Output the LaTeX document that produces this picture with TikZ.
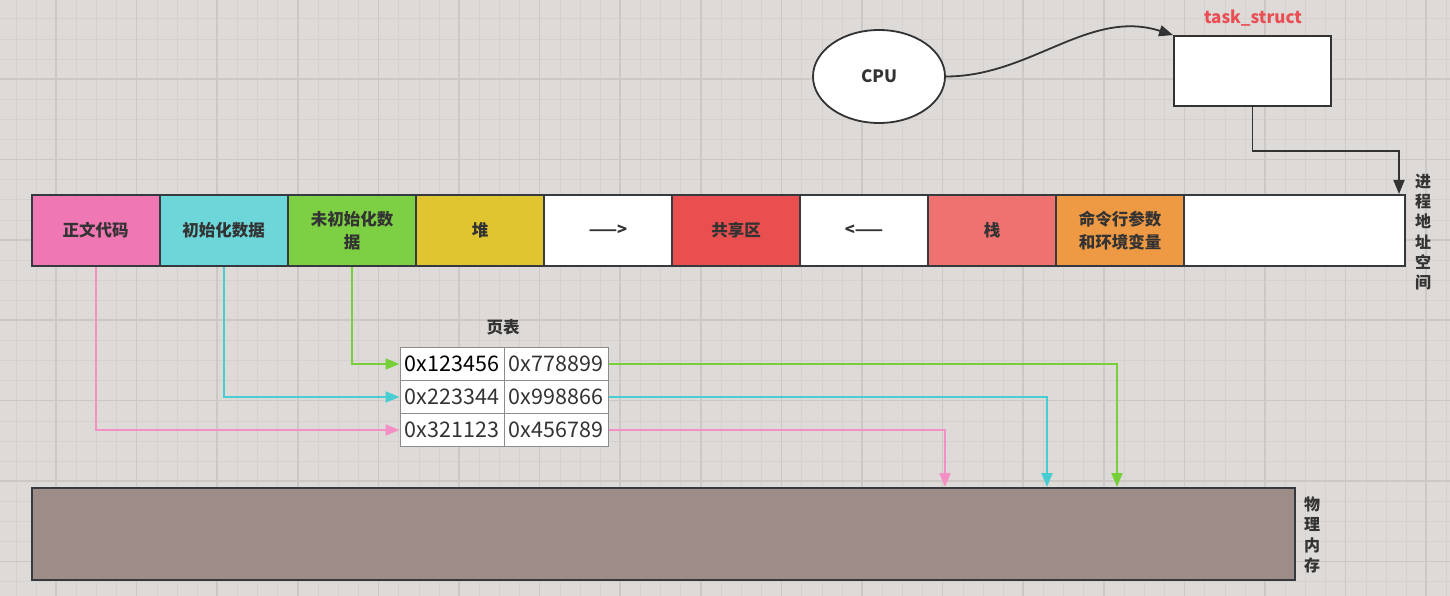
\documentclass[tikz,border=0pt]{standalone}
\usepackage{fontspec}
\setmainfont{Noto Sans CJK SC}
\usetikzlibrary{positioning,calc,arrows.meta,shapes.geometric}

\definecolor{paper}{HTML}{DEDAD8}
\definecolor{gridminor}{HTML}{D5D1CF}
\definecolor{gridmajor}{HTML}{CCC8C6}
\definecolor{ink}{HTML}{333333}
\definecolor{edge}{HTML}{36393D}
\definecolor{codepink}{HTML}{EE77B4}
\definecolor{datacyan}{HTML}{6DD6D8}
\definecolor{bssgreen}{HTML}{7DCF43}
\definecolor{heapyellow}{HTML}{E0C530}
\definecolor{sharedred}{HTML}{E84F4E}
\definecolor{stacksalmon}{HTML}{EE7370}
\definecolor{argorange}{HTML}{EE9943}
\definecolor{ramgray}{HTML}{9E8C89}
\definecolor{linkpink}{HTML}{F590C4}
\definecolor{linkcyan}{HTML}{48CED2}
\definecolor{linkgreen}{HTML}{77D03A}
\definecolor{tsred}{HTML}{EA4E54}

\begin{document}
\begin{tikzpicture}[x=1pt,y=-1pt,
  seg/.style={draw=edge,line width=2pt,minimum width=128pt,minimum height=71pt,
    inner sep=0pt,align=center,text=ink,
    font=\fontsize{16.5}{22.5}\selectfont\bfseries},
  pcell/.style={draw=gray!90,line width=1pt,fill=white,minimum width=104pt,
    minimum height=33pt,inner sep=0pt,text=ink,font=\fontsize{21.5}{24}\selectfont},
  vlabel/.style={align=center,text=ink,inner sep=0pt,
    font=\fontsize{16}{20.3}\selectfont\bfseries},
  darklink/.style={draw=ink,line width=1.8pt,-{Triangle[length=14pt,width=11pt]}},
  link/.style={draw=#1,line width=2pt,-{Triangle[length=14pt,width=11pt]}}]

\useasboundingbox (0,0) rectangle (1450,596);
\fill[paper] (0,0) rectangle (1450,596);

% Background grid.
\foreach \i in {0,...,71}
  \draw[gridminor,line width=1pt] ({16+20.15*\i},0) -- ({16+20.15*\i},596);
\foreach \j in {0,...,28}
  \draw[gridminor,line width=1pt] (0,{19+20.1*\j}) -- (1450,{19+20.1*\j});
\foreach \i in {0,...,17}
  \draw[gridmajor,line width=1.5pt] ({56+80.6*\i},0) -- ({56+80.6*\i},596);
\foreach \j in {0,...,6}
  \draw[gridmajor,line width=1.5pt] (0,{79+80.4*\j}) -- (1450,{79+80.4*\j});

% CPU and task_struct.
\node[draw=ink,line width=1.8pt,fill=white,ellipse,minimum width=132pt,
  minimum height=93pt,text=ink,font=\fontsize{17}{20}\selectfont\bfseries]
  (cpu) at (879,76.5) {CPU};
\node[draw=ink,line width=1.8pt,fill=white,minimum width=157pt,
  minimum height=70pt] (ts) at (1252.5,71) {};
\node[text=tsred,font=\fontsize{17}{20}\selectfont\bfseries]
  (tsname) at (1253,18) {task\_struct};

% Process address space.
\node[seg,fill=codepink]    (seg1)  at (95.5,230.5)  {正文代码};
\node[seg,fill=datacyan]    (seg2)  at (223.5,230.5) {初始化数据};
\node[seg,fill=bssgreen]    (seg3)  at (352,230.5)   {未初始化数\\据};
\node[seg,fill=heapyellow]  (seg4)  at (480,230.5)   {堆};
\node[seg,fill=white]       (seg5)  at (608,230.5)   {——>};
\node[seg,fill=sharedred]   (seg6)  at (736,230.5)   {共享区};
\node[seg,fill=white]       (seg7)  at (864,230.5)   {<——};
\node[seg,fill=stacksalmon] (seg8)  at (992,230.5)   {栈};
\node[seg,fill=argorange]   (seg9)  at (1120,230.5)  {命令行参数\\和环境变量};
\node[seg,fill=white,minimum width=221pt] (seg10) at (1294.5,230.5) {};
\node[vlabel] (asname) at (1423,232) {进\\程\\地\\址\\空\\间};

% Page table.
\node[text=ink,font=\fontsize{16.5}{20}\selectfont\bfseries]
  (ptname) at (503,327) {页表};
\node[pcell,text=black] (p11) at (452,364) {0x123456};
\node[pcell] (p12) at (556,364) {0x778899};
\node[pcell] (p21) at (452,397) {0x223344};
\node[pcell] (p22) at (556,397) {0x998866};
\node[pcell] (p31) at (452,430) {0x321123};
\node[pcell] (p32) at (556,430) {0x456789};

% Physical memory.
\node[draw=edge,line width=2pt,fill=ramgray,minimum width=1263pt,
  minimum height=92pt] (mem) at (663.5,534) {};
\node[vlabel] (memname) at (1312,535) {物\\理\\内\\存};

% Connectors.
\draw[darklink] (cpu.east) .. controls +(85,0) and +(-84,-27) .. (ts.north west);
\coordinate (asin) at ($(seg10.north east)+(-7,0)$);
\draw[darklink] (ts.south) -- ++(0,44) -| (asin);

\draw[link=linkgreen] (seg3.south) |- (p11.west);
\draw[link=linkcyan]  (seg2.south) |- (p21.west);
\draw[link=linkpink]  (seg1.south) |- (p31.west);

\coordinate (memg) at ($(mem.north west)+(1086,0)$);
\coordinate (memc) at ($(mem.north west)+(1016,0)$);
\coordinate (memp) at ($(mem.north west)+(914,0)$);
\draw[link=linkgreen] (p12.east) -| (memg);
\draw[link=linkcyan]  (p22.east) -| (memc);
\draw[link=linkpink]  (p32.east) -| (memp);

\end{tikzpicture}
\end{document}
